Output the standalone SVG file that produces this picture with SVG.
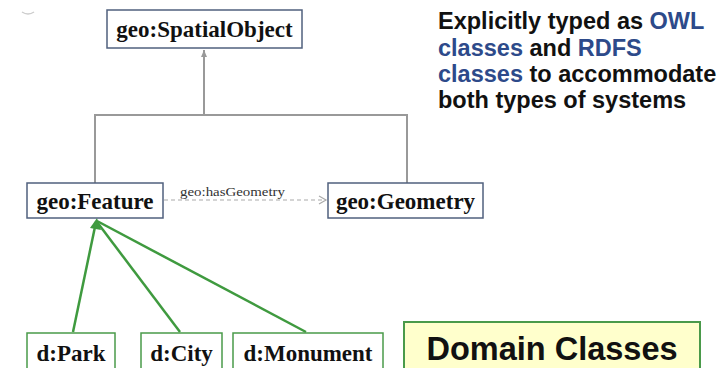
<svg xmlns="http://www.w3.org/2000/svg" width="724" height="368" viewBox="0 0 724 368">
<style>
.cls{fill:#fff;stroke:#50607e;stroke-width:1.5}
.dom{fill:#fff;stroke:#4a9a4a;stroke-width:1.5}
.lbl{font-family:"Liberation Serif",serif;font-weight:bold;font-size:23px;fill:#111;text-anchor:middle}
.gen{fill:none;stroke:#999;stroke-width:2}
.grn{fill:none;stroke:#3f9a3f;stroke-width:2.5}
.note{font-family:"Liberation Sans",Arial,sans-serif;font-weight:bold;font-size:23.5px;fill:#111}
.blue{fill:#2d4a8a}
</style>
<defs>
<marker id="tri" markerWidth="8" markerHeight="8" refX="7" refY="4" orient="auto" markerUnits="userSpaceOnUse">
<path d="M0,1 L7,4 L0,7 Z" fill="#999"/>
</marker>
<marker id="open" markerWidth="10" markerHeight="10" refX="8" refY="5" orient="auto" markerUnits="userSpaceOnUse">
<path d="M1,1 L8,5 L1,9" fill="none" stroke="#aaa" stroke-width="1.2"/>
</marker>
</defs>
<path d="M22,12 Q28,16 34,12" fill="none" stroke="#ccc" stroke-width="1.5"/>
<g id="connectors">
<path class="gen" d="M95,183 V115 H407 V183"/>
<path class="gen" d="M204,115 V50" marker-end="url(#tri)"/>
<path d="M164,200 H326" fill="none" stroke="#aaa" stroke-width="1.2" stroke-dasharray="4,3" marker-end="url(#open)"/>
<text x="180" y="196" font-family="Liberation Serif,serif" font-size="12" fill="#333" textLength="105" lengthAdjust="spacingAndGlyphs">geo:hasGeometry</text>
<path class="grn" d="M73,332 L96,222"/>
<path class="grn" d="M180,332 L97,222"/>
<path class="grn" d="M306,332 L97,221"/>
<path d="M90,228 L97,218 L101,230 Z" fill="#3f9a3f"/>
</g>
<g id="spatialobject">
<rect class="cls" x="107" y="10" width="195" height="38"/>
<text class="lbl" x="204.5" y="37">geo:SpatialObject</text>
</g>
<g id="feature">
<rect class="cls" x="27" y="183" width="136" height="35"/>
<text class="lbl" x="95" y="209">geo:Feature</text>
</g>
<g id="geometry">
<rect class="cls" x="328" y="183" width="155" height="35"/>
<text class="lbl" x="405.5" y="209">geo:Geometry</text>
</g>
<g id="park">
<rect class="dom" x="27" y="333" width="88" height="40"/>
<text class="lbl" x="71" y="361">d:Park</text>
</g>
<g id="city">
<rect class="dom" x="141" y="333" width="81" height="40"/>
<text class="lbl" x="181.5" y="361">d:City</text>
</g>
<g id="monument">
<rect class="dom" x="233" y="333" width="150" height="40"/>
<text class="lbl" x="308" y="361">d:Monument</text>
</g>
<g id="domainclasses">
<rect x="404" y="322" width="296" height="50" fill="#ffffcc" stroke="#4a9a4a" stroke-width="2"/>
<text x="552" y="360" font-family="Liberation Sans,Arial,sans-serif" font-weight="bold" font-size="32.5" fill="#111" text-anchor="middle">Domain Classes</text>
</g>
<g id="note">
<text class="note" x="438" y="29">Explicitly typed as <tspan class="blue">OWL</tspan></text>
<text class="note" x="438" y="56"><tspan class="blue">classes</tspan> and <tspan class="blue">RDFS</tspan></text>
<text class="note" x="438" y="82"><tspan class="blue">classes</tspan> to accommodate</text>
<text class="note" x="438" y="108">both types of systems</text>
</g>
</svg>
